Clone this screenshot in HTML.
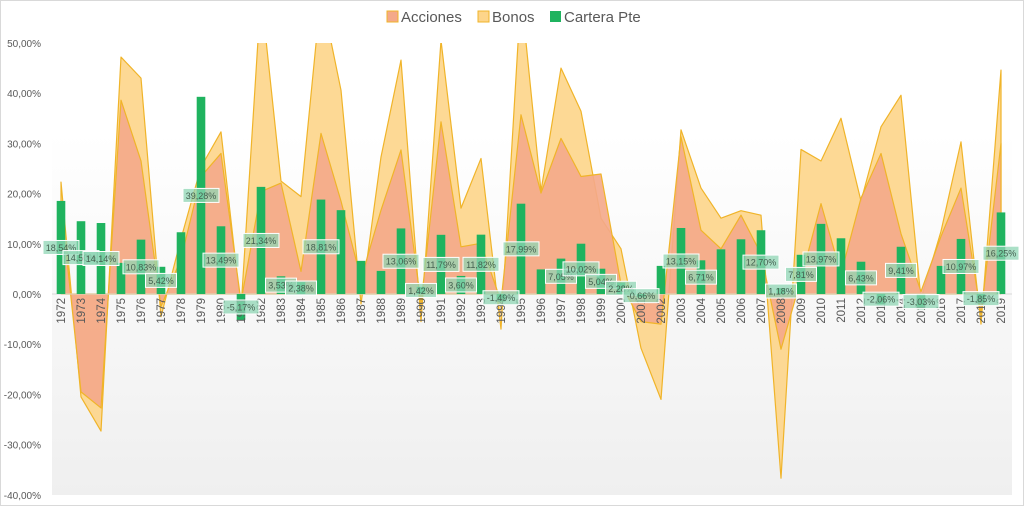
<!DOCTYPE html>
<html><head><meta charset="utf-8"><style>
html,body{margin:0;padding:0;background:#fff;}
svg{display:block;font-family:"Liberation Sans",sans-serif;}
</style></head><body>
<svg id="chart" width="1024" height="506" viewBox="0 0 1024 506">
<defs>
<linearGradient id="bg" x1="0" y1="0" x2="0" y2="1">
<stop offset="0" stop-color="#ffffff"/><stop offset="0.2" stop-color="#ffffff"/><stop offset="1" stop-color="#efefef"/>
</linearGradient>
<clipPath id="clip"><rect x="52" y="43" width="960" height="452"/></clipPath>
</defs>
<rect x="0.5" y="0.5" width="1023" height="505" fill="#fff" stroke="#d9d9d9"/>
<rect x="52" y="43" width="960" height="452" fill="url(#bg)"/>
<g font-size="15" fill="#595959">
<rect x="387" y="11" width="11" height="11" fill="#f4a98a" stroke="#f0b429"/>
<text x="401" y="22">Acciones</text>
<rect x="478" y="11" width="11" height="11" fill="#fdd58a" stroke="#f0b429"/>
<text x="492" y="22">Bonos</text>
<rect x="550" y="11" width="11" height="11" fill="#1fb35f"/>
<text x="564" y="22">Cartera Pte</text>
</g>
<g id="yaxis"></g>
<g id="areas" clip-path="url(#clip)"></g>
<g id="bars"></g>
<g id="xaxis"></g>
<g id="labels"></g>
</svg>
<script>
const years = [];
for (let yv = 1972; yv <= 2019; yv++) years.push(String(yv));
const cartera = [18.54,14.5,14.14,6.2,10.83,5.42,12.3,39.28,13.49,-5.17,21.34,3.53,2.38,18.81,16.7,6.6,4.6,13.06,1.42,11.79,3.60,11.82,-1.49,17.99,4.9,7.05,10.02,5.04,2.28,-0.66,5.6,13.15,6.71,8.9,10.9,12.70,1.18,7.81,13.97,11.1,6.43,-2.06,9.41,-3.03,5.6,10.97,-1.85,16.25];
const acciones = [18,-19.5,-22.7,38.6,26.5,-2.5,7,23.4,28,-1.5,20.4,22.1,4.5,32,18.5,3,16.7,28.7,-2,34.3,9.4,10.1,-1.5,35.7,20.1,31,23.4,23.9,2,-5.5,-6,31.3,12.7,9,15.7,8,-11,3,18,4,19.1,28,12,0.5,11.5,21.1,-4,30];
const bonos = [22.3,-20.5,-27.3,47.2,43,-4.5,11,25.3,32.3,-3,60,22.5,19.4,60,40.6,-2,27.3,46.6,-5.5,50.5,17.1,27,-7,60,20.5,45,36.4,15.1,9,-10.8,-21,32.7,21.1,15.1,16.6,15.7,-36.7,28.8,26.5,35,18.5,33.3,39.6,-1,12.5,30.3,-6,44.6];
const showLabel = [1,1,1,0,1,1,0,1,1,1,1,1,1,1,0,0,0,1,1,1,1,1,1,1,0,1,1,1,1,1,0,1,1,0,0,1,1,1,1,0,1,1,1,1,0,1,1,1];
const yTicks = [50,40,30,20,10,0,-10,-20,-30,-40];

const NS = "http://www.w3.org/2000/svg";
function x(i){ return 61 + i*20; }
function y(v){ return 294 - v*5.02; }
function fmt(v){ return v.toFixed(2).replace('.', ',') + '%'; }
function mk(tag, attrs, parent){ const e = document.createElementNS(NS, tag); for (const k in attrs) e.setAttribute(k, attrs[k]); parent.appendChild(e); return e; }

const yaxis = document.getElementById('yaxis');
yTicks.forEach(t => {
  const tx = mk('text', {x: 41, y: y(t)+4, 'text-anchor': 'end', 'font-size': 10, fill: '#595959'}, yaxis);
  
  
  tx.textContent = t.toFixed(2).replace('.', ',') + '%';
});

const areas = document.getElementById('areas');
function areaPath(vals){
  let d = 'M' + x(0) + ',' + y(0);
  vals.forEach((v,i) => { d += ' L' + x(i) + ',' + y(v); });
  d += ' L' + x(vals.length-1) + ',' + y(0) + ' Z';
  return d;
}
const pb = mk('path', {d: areaPath(bonos), fill: '#fdd58a', 'fill-opacity': 0.9, stroke: '#f0b429', 'stroke-width': 1.2, 'stroke-linejoin': 'round'}, areas);


const pa = mk('path', {d: areaPath(acciones), fill: '#f4a98a', 'fill-opacity': 0.9, stroke: '#f0b429', 'stroke-width': 1.2, 'stroke-linejoin': 'round'}, areas);


const zl = mk('line', {x1: 52, x2: 1012, y1: y(0), y2: y(0), stroke: '#d9d9d9', 'stroke-width': 1}, areas);



const bars = document.getElementById('bars');
cartera.forEach((v,i) => {
  const top = Math.min(y(v), y(0)), h = Math.abs(y(v) - y(0));
  const r = mk('rect', {x: x(i)-4.3, y: top, width: 8.6, height: Math.max(h, 0.5), fill: '#1fb35f'}, bars);
  
  
});

const xaxis = document.getElementById('xaxis');
years.forEach((yr,i) => {
  const t = mk('text', {x: 0, y: 0, 'text-anchor': 'end', 'font-size': 11.5, fill: '#595959', transform: 'translate(' + (x(i)+4) + ',' + 298 + ') rotate(-90)'}, xaxis);
  
  
  t.textContent = yr;
});

const labels = document.getElementById('labels');
cartera.forEach((v,i) => {
  if (!showLabel[i]) return;
  const cy = y(v/2);
  const txt = fmt(v);
  const w = txt.length * 5 + 6;
  const g = mk('g', {}, labels);
  
  
  mk('rect', {x: x(i)-w/2, y: cy-7, width: w, height: 14, fill: '#8fd6b4', 'fill-opacity': 0.75, stroke: '#ffffff', 'stroke-width': 1}, g);
  const t = mk('text', {x: x(i), y: cy+3.5, 'text-anchor': 'middle', 'font-size': 9, fill: '#44604f'}, g);
  t.textContent = txt;
});
</script>
</body></html>
